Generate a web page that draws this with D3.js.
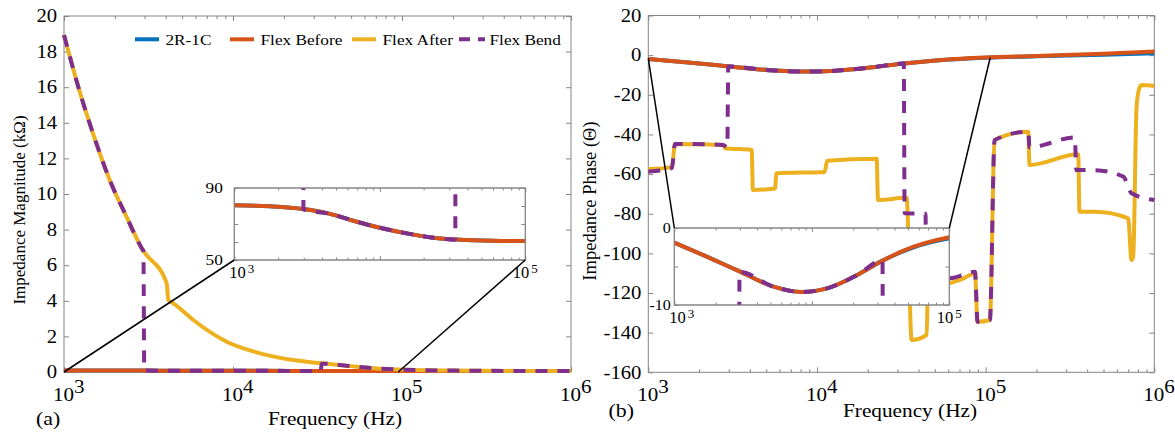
<!DOCTYPE html>
<html>
<head>
<meta charset="utf-8">
<script src="https://cdn.jsdelivr.net/npm/d3@7"></script>
<style>
  body { margin: 0; background: #fff; }
  svg { display: block; }
  text { font-family: "Liberation Serif", "Times New Roman", serif; fill: #000; }
</style>
</head>
<body>
<svg id="chart" width="1175" height="435"></svg>
<script>
const seriesNames = ['2R-1C', 'Flex Before', 'Flex After', 'Flex Bend'];
const seriesColors = ['#0072BD', '#D95319', '#EDB120', '#7E2F8E'];

// impedance magnitude, ohm (main panel shows kOhm)
const magFreqModel = [1000, 1758, 2978, 4550, 6580, 10000, 15300, 23300, 35600, 60000, 100000, 300000, 1000000];
const magModel = [80.4, 79.8, 78.3, 75.6, 71.8, 67.9, 64.8, 62.4, 61.3, 60.7, 60.5, 60.4, 60.3];
const magFreqBefore = [1000, 1758, 2978, 4550, 6580, 10000, 15300, 23300, 35600, 60000, 100000, 300000, 1000000];
const magBefore = [80.4, 79.8, 78.3, 75.6, 71.8, 67.9, 64.8, 62.4, 61.3, 60.7, 60.5, 60.4, 60.3];
const magFreqAfter = [1000, 1243, 1491, 1871, 2350, 2884, 4053, 4140, 4434, 5820, 9173, 14450, 22700, 32700, 50000, 65000, 95000, 200000, 500000, 1000000];
const magAfter = [18930, 15700, 13350, 10750, 8700, 6950, 4980, 4040, 3860, 2920, 1700, 1050, 670, 500, 330, 230, 140, 80, 60, 55];
const magFreqBend = [1000, 1243, 1491, 1871, 2350, 2884, 2950, 2985, 4550, 6580, 10000, 15300, 23300, 33000, 33500, 50000, 65000, 95000, 200000, 500000, 1000000];
const magBend = [18930, 15700, 13350, 10750, 8700, 6950, 6800, 78.2, 75.6, 71.8, 67.9, 64.8, 62.4, 61.3, 470, 330, 230, 140, 80, 60, 55];

// impedance phase, degrees
const phaseFreqModel = [1000, 1722, 3013, 5271, 8489, 12900, 21400, 31600, 55200, 100000, 200000, 500000, 1000000];
const phaseModel = [-1.9, -3.72, -5.67, -7.62, -8.31, -7.84, -6.10, -4.37, -2.5, -1.35, -0.6, 0.2, 1.0];
const phaseFreqBefore = [1000, 1722, 3013, 5271, 8489, 12900, 21400, 31600, 55200, 100000, 200000, 500000, 1000000];
const phaseBefore = [-1.9, -3.72, -5.67, -7.62, -8.31, -7.84, -6.10, -4.37, -2.43, -1.21, -0.4, 0.7, 1.8];
const phaseFreqAfter = [1000, 1380, 1440, 2785, 2850, 4100, 4170, 5640, 5750, 11100, 11500, 22600, 23000, 34000, 36400, 44700, 45500, 61400, 70500, 86500, 89500, 106000, 113000, 179000, 182000, 354000, 360000, 445000, 700000, 733000, 750000, 785000, 810000, 840000, 1000000];
const phaseAfter = [-57.5, -56.5, -44.8, -45.3, -47.0, -47.8, -68.0, -67.3, -59.6, -58.9, -53.3, -52.3, -73.1, -72.0, -143.7, -141.2, -117, -115, -113.4, -110.3, -134.5, -133.6, -42.8, -38.6, -55.4, -50.0, -79.0, -79.0, -82.3, -103.4, -101.5, -26, -17.5, -15.1, -15.6];
const phaseFreqBend = [1000, 1380, 1440, 2785, 2940, 2980, 5271, 8489, 12900, 21400, 32700, 33100, 44000, 44500, 61400, 86500, 89500, 106000, 113000, 179000, 182000, 338000, 345000, 435000, 655000, 733000, 1000000];
const phaseBend = [-58.8, -57.0, -44.8, -45.3, -46.5, -5.7, -7.62, -8.31, -7.84, -6.10, -4.2, -79.8, -80.0, -112, -112.5, -109.3, -134.5, -133.6, -42.8, -38.6, -46.5, -41.5, -58.0, -58.0, -61.3, -69.7, -73.1];

// ticks
const freqDecades = [1e3, 1e4, 1e5, 1e6];
const insetDecades = [1e3, 1e4, 1e5];
const insetFreqLabels = [1e3, 1e5];
const magTicks = [0, 2, 4, 6, 8, 10, 12, 14, 16, 18, 20];
const phaseTicks = [-160, -140, -120, -100, -80, -60, -40, -20, 0, 20];
const magInsetTicks = [50, 60, 70, 80, 90];
const magInsetLabels = [50, 90];
const phaseInsetTicks = [-10, -5, 0];
const phaseInsetLabels = [-10, 0];

// points of the main curves that are joined to the inset corners
const magZoomFrom = [[1e3, 0], [9.5e4, 0]];
const phaseZoomFrom = [[1e3, -1.6], [1.064e5, -1.3]];

const axisGray = '#858585';
const svg = d3.select('#chart');

const xMag = d3.scaleLog().domain([1e3, 1e6]).range([64, 571]);
const yMag = d3.scaleLinear().domain([0, 20]).range([372, 16]);
const xMagIn = d3.scaleLog().domain([1e3, 1e5]).range([234.3, 525.3]);
const yMagIn = d3.scaleLinear().domain([50, 90]).range([260, 188]);
const xPh = d3.scaleLog().domain([1e3, 1e6]).range([648.3, 1154.3]);
const yPh = d3.scaleLinear().domain([-160, 20]).range([372.3, 15.5]);
const xPhIn = d3.scaleLog().domain([1e3, 1e5]).range([674.3, 949.3]);
const yPhIn = d3.scaleLinear().domain([-10, 0]).range([305, 228]);

const defs = svg.append('defs');
function clip(id, xs, ys, pad) {
    const [xa, xb] = xs.range(), [ya, yb] = ys.range();
    defs.append('clipPath').attr('id', id).append('rect')
        .attr('x', xa - pad).attr('y', yb - pad)
        .attr('width', xb - xa + 2 * pad).attr('height', ya - yb + 2 * pad);
    return `url(#${id})`;
}

function drawAxes(g, xs, ys, o) {
    const [xa, xb] = xs.range(), [ya, yb] = ys.range();
    const minors = [];
    o.decades.slice(0, -1).forEach(d => [2, 3, 4, 5, 6, 7, 8, 9].forEach(m => minors.push(d * m)));
    const plain = [
        [d3.axisBottom(xs).tickValues(o.decades).tickSize(-o.major), `translate(0,${ya})`],
        [d3.axisBottom(xs).tickValues(minors).tickSize(-o.minor), `translate(0,${ya})`],
        [d3.axisTop(xs).tickValues(o.decades).tickSize(-o.major), `translate(0,${yb})`],
        [d3.axisTop(xs).tickValues(minors).tickSize(-o.minor), `translate(0,${yb})`],
        [d3.axisRight(ys).tickValues(o.yTicks).tickSize(-o.major), `translate(${xb},0)`]
    ];
    plain.forEach(([ax, tr]) => {
        const a = g.append('g').attr('transform', tr).call(ax.tickFormat('').tickSizeOuter(0));
        a.select('.domain').remove();
        a.selectAll('line').attr('stroke', axisGray);
    });
    const left = g.append('g').attr('transform', `translate(${xa},0)`)
        .call(d3.axisLeft(ys).tickValues(o.yTicks).tickSize(-o.major).tickSizeOuter(0)
            .tickPadding(o.yPad)
            .tickFormat(d => o.yLabels.includes(d) ? String(d) : ''));
    left.attr('font-family', null).attr('font-size', null);
    left.select('.domain').remove();
    left.selectAll('line').attr('stroke', axisGray);
    left.selectAll('text').attr('font-size', o.ySize).attr('transform', `scale(${o.yStretch},1)`);

    g.append('rect')
        .attr('x', xa).attr('y', yb).attr('width', xb - xa).attr('height', ya - yb)
        .attr('fill', 'none').attr('stroke', axisGray).attr('stroke-width', 1);

    o.xLabels.forEach((d, i) => {
        const t = g.append('text')
            .attr('transform', `translate(${xs(d) + o.xOff[i]},${ya + o.xBase}) scale(${o.xStretch},1)`)
            .attr('font-size', o.xSize)
            .text('10');
        t.append('tspan').attr('dy', -o.supRaise).attr('dx', o.supGap)
            .attr('font-size', o.supSize).text(Math.round(Math.log10(d)));
    });
}

function drawSeries(g, xs, ys, list, k) {
    list.forEach((s, i) => {
        const line = d3.line()
            .x(d => xs(d[0]))
            .y(d => ys(d[1] * k))
            .curve(d3.curveMonotoneX);
        g.append('path')
            .datum(d3.zip(s[0], s[1]))
            .attr('fill', 'none')
            .attr('stroke', seriesColors[i])
            .attr('stroke-width', 4)
            .attr('stroke-linejoin', 'round')
            .attr('stroke-dasharray', i === 3 ? '12,10' : null)
            .attr('d', line);
    });
}

function addText(g, str, x, y, size, stretch, anchor) {
    return g.append('text')
        .attr('transform', `translate(${x},${y}) scale(${stretch},1)`)
        .attr('font-size', size)
        .attr('text-anchor', anchor)
        .text(str);
}

const magSeries = [[magFreqModel, magModel], [magFreqBefore, magBefore], [magFreqAfter, magAfter], [magFreqBend, magBend]];
const phaseSeries = [[phaseFreqModel, phaseModel], [phaseFreqBefore, phaseBefore], [phaseFreqAfter, phaseAfter], [phaseFreqBend, phaseBend]];

const mainAxis = { decades: freqDecades, major: 5, minor: 3, yPad: 6, ySize: 18, yStretch: 1.15,
    xLabels: freqDecades, xOff: [-11, -11, -11, -11], xBase: 29, xSize: 19.5, xStretch: 1.08,
    supSize: 19.5, supRaise: 8.5, supGap: 0 };
const insetAxis = { decades: insetDecades, major: 4, minor: 2.5, ySize: 15, yStretch: 1.15,
    xLabels: insetFreqLabels, xOff: [-5, -12.5], xBase: 17.5, xSize: 16.5, xStretch: 1.0,
    supSize: 13, supRaise: 5, supGap: 2 };

function drawInset(g, xs, ys, yTicks, yLabels, yPad, ySize, series, id) {
    const [xa, xb] = xs.range(), [ya, yb] = ys.range();
    g.append('rect').attr('x', xa).attr('y', yb).attr('width', xb - xa).attr('height', ya - yb)
        .attr('fill', '#fff');
    drawAxes(g, xs, ys, Object.assign({}, insetAxis, { yTicks, yLabels, yPad, ySize }));
    const c = g.append('g').attr('clip-path', clip(id, xs, ys, 0));
    drawSeries(c, xs, ys, series, 1);
    g.append('rect').attr('x', xa).attr('y', yb).attr('width', xb - xa).attr('height', ya - yb)
        .attr('fill', 'none').attr('stroke', axisGray);
}

// ---------- (a) magnitude ----------
const gMag = svg.append('g');
drawAxes(gMag, xMag, yMag, Object.assign({}, mainAxis, { yTicks: magTicks, yLabels: magTicks }));
drawSeries(gMag.append('g').attr('clip-path', clip('clipMag', xMag, yMag, 2.5)), xMag, yMag, magSeries, 0.001);

const legendX = [135, 230, 352, 459];
seriesNames.forEach((name, i) => {
    gMag.append('line')
        .attr('x1', legendX[i]).attr('x2', legendX[i] + (i === 3 ? 26 : 24))
        .attr('y1', 39.3).attr('y2', 39.3)
        .attr('stroke', seriesColors[i]).attr('stroke-width', 4)
        .attr('stroke-dasharray', i === 3 ? '11,8' : null);
    addText(gMag, name, legendX[i] + 30.5, 45, 15, 1.15, 'start');
});

drawInset(gMag.append('g'), xMagIn, yMagIn, magInsetTicks, magInsetLabels, 10, 15, magSeries, 'clipMagIn');

magZoomFrom.forEach((p, i) => {
    gMag.append('line')
        .attr('x1', xMag(p[0])).attr('y1', yMag(p[1]))
        .attr('x2', xMagIn(insetDecades[i * 2])).attr('y2', yMagIn(50))
        .attr('stroke', '#000').attr('stroke-width', 1.5);
});

gMag.append('text')
    .attr('transform', 'translate(25,210) rotate(-90)')
    .attr('font-size', 17).attr('text-anchor', 'middle')
    .text('Impedance Magnitude (kΩ)');
addText(gMag, 'Frequency (Hz)', 335, 425, 18.5, 1.15, 'middle');
addText(gMag, '(a)', 36, 425, 19, 1.15, 'start');

// ---------- (b) phase ----------
const gPh = svg.append('g');
drawAxes(gPh, xPh, yPh, Object.assign({}, mainAxis, { yTicks: phaseTicks, yLabels: phaseTicks }));
drawSeries(gPh.append('g').attr('clip-path', clip('clipPh', xPh, yPh, 2.5)), xPh, yPh, phaseSeries, 1);

drawInset(gPh.append('g'), xPhIn, yPhIn, phaseInsetTicks, phaseInsetLabels, 3, 14, phaseSeries, 'clipPhIn');

phaseZoomFrom.forEach((p, i) => {
    gPh.append('line')
        .attr('x1', xPh(p[0])).attr('y1', yPh(p[1]))
        .attr('x2', xPhIn(insetDecades[i * 2])).attr('y2', yPhIn(0))
        .attr('stroke', '#000').attr('stroke-width', 1.5);
});

gPh.append('text')
    .attr('transform', 'translate(596,201) rotate(-90)')
    .attr('font-size', 18.5).attr('text-anchor', 'middle')
    .text('Impedance Phase (Θ)');
addText(gPh, 'Frequency (Hz)', 910, 417, 18.5, 1.15, 'middle');
addText(gPh, '(b)', 608.5, 417, 19, 1.15, 'start');
</script>
</body>
</html>
